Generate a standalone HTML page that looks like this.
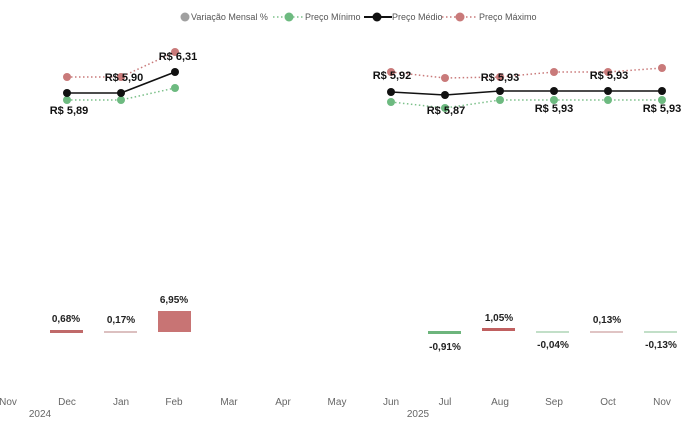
<!DOCTYPE html>
<html><head><style>body{margin:0;background:#fff}svg{display:block;font-family:"Liberation Sans",sans-serif}</style></head><body>
<svg width="700" height="424" viewBox="0 0 700 424">
<g font-size="9" fill="#555">
<circle cx="185" cy="17" r="4.5" fill="#a0a0a0"/><text x="191" y="20">Variação Mensal %</text>
<line x1="273" y1="17" x2="305" y2="17" stroke="#7cc08a" stroke-dasharray="1.5,2.5" stroke-width="1.5"/><circle cx="289" cy="17" r="4.5" fill="#6dba80"/><text x="305" y="20">Preço Mínimo</text>
<line x1="364" y1="17" x2="392" y2="17" stroke="#111" stroke-width="2"/><circle cx="377" cy="17" r="4.5" fill="#111"/><text x="392" y="20">Preço Médio</text>
<line x1="442" y1="17" x2="478" y2="17" stroke="#c97a7a" stroke-dasharray="1.5,2.5" stroke-width="1.5"/><circle cx="460" cy="17" r="4.5" fill="#c97a7a"/><text x="479" y="20">Preço Máximo</text>
</g>
<g fill="none" stroke-width="1.5" stroke-dasharray="1.5,2.5">
<polyline stroke="#c97a7a" points="67,77 121,77 175,52"/>
<polyline stroke="#c97a7a" points="391,72 445,78 500,77 554,72 608,72 662,68"/>
<polyline stroke="#7cc08a" points="67,100 121,100 175,88"/>
<polyline stroke="#7cc08a" points="391,102 445,108 500,100 554,100 608,100 662,100"/>
</g>
<g fill="none" stroke="#111" stroke-width="1.6">
<polyline points="67,93 121,93 175,72"/>
<polyline points="391,92 445,95 500,91 554,91 608,91 662,91"/>
</g>
<g fill="#c97a7a"><circle cx="67" cy="77" r="4"/><circle cx="121" cy="77" r="4"/><circle cx="175" cy="52" r="4"/><circle cx="391" cy="72" r="4"/><circle cx="445" cy="78" r="4"/><circle cx="500" cy="77" r="4"/><circle cx="554" cy="72" r="4"/><circle cx="608" cy="72" r="4"/><circle cx="662" cy="68" r="4"/></g>
<g fill="#6dba80"><circle cx="67" cy="100" r="4"/><circle cx="121" cy="100" r="4"/><circle cx="175" cy="88" r="4"/><circle cx="391" cy="102" r="4"/><circle cx="445" cy="108" r="4"/><circle cx="500" cy="100" r="4"/><circle cx="554" cy="100" r="4"/><circle cx="608" cy="100" r="4"/><circle cx="662" cy="100" r="4"/></g>
<g fill="#111"><circle cx="67" cy="93" r="4"/><circle cx="121" cy="93" r="4"/><circle cx="175" cy="72" r="4"/><circle cx="391" cy="92" r="4"/><circle cx="445" cy="95" r="4"/><circle cx="500" cy="91" r="4"/><circle cx="554" cy="91" r="4"/><circle cx="608" cy="91" r="4"/><circle cx="662" cy="91" r="4"/></g>
<g font-size="11" font-weight="bold" fill="#111" text-anchor="middle">
<text x="69" y="114">R$ 5,89</text><text x="124" y="81">R$ 5,90</text><text x="178" y="60">R$ 6,31</text>
<text x="392" y="79">R$ 5,92</text><text x="446" y="114">R$ 5,87</text><text x="500" y="81">R$ 5,93</text>
<text x="554" y="112">R$ 5,93</text><text x="609" y="79">R$ 5,93</text><text x="662" y="112">R$ 5,93</text>
</g>
<rect x="50" y="330" width="33" height="3" fill="#c06a6a"/>
<rect x="104" y="331" width="33" height="2" fill="#dcc0c0"/>
<rect x="158" y="311" width="33" height="21" fill="#c87474"/>
<rect x="428" y="331" width="33" height="3" fill="#6db57c"/>
<rect x="482" y="328" width="33" height="3" fill="#c06060"/>
<rect x="536" y="331" width="33" height="2" fill="#c2dfc8"/>
<rect x="590" y="331" width="33" height="2" fill="#e0c4c4"/>
<rect x="644" y="331" width="33" height="2" fill="#c2dfc8"/>
<g font-size="10" font-weight="bold" fill="#222" text-anchor="middle">
<text x="66" y="322">0,68%</text><text x="121" y="323">0,17%</text><text x="174" y="303">6,95%</text>
<text x="445" y="350">-0,91%</text><text x="499" y="321">1,05%</text><text x="553" y="348">-0,04%</text>
<text x="607" y="323">0,13%</text><text x="661" y="348">-0,13%</text>
</g>
<g font-size="10" fill="#666" text-anchor="middle">
<text x="8" y="405">Nov</text><text x="67" y="405">Dec</text><text x="121" y="405">Jan</text><text x="174" y="405">Feb</text><text x="229" y="405">Mar</text><text x="283" y="405">Apr</text><text x="337" y="405">May</text><text x="391" y="405">Jun</text><text x="445" y="405">Jul</text><text x="500" y="405">Aug</text><text x="554" y="405">Sep</text><text x="608" y="405">Oct</text><text x="662" y="405">Nov</text>
<text x="40" y="417">2024</text><text x="418" y="417">2025</text>
</g>
</svg>
</body></html>
